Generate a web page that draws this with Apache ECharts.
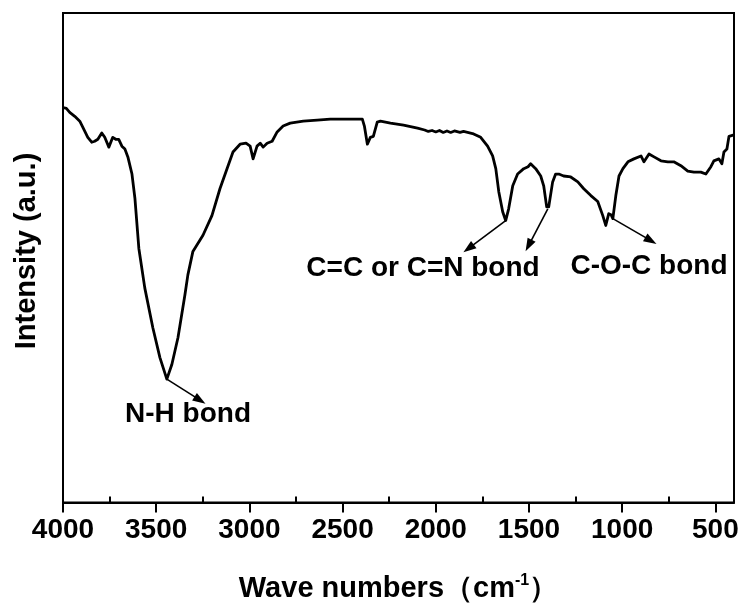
<!DOCTYPE html>
<html>
<head>
<meta charset="utf-8">
<script src="https://cdn.jsdelivr.net/npm/echarts@6/dist/echarts.min.js"></script>
<style>
  html, body { margin: 0; padding: 0; background: #fff; }
  #chart { width: 744px; height: 608px; }
</style>
</head>
<body>
<div id="chart"></div>
<script>
// FTIR spectrum: wavenumber (cm-1) and intensity (a.u.)
const wavenumbers = [
  4000, 3982, 3964, 3937, 3910, 3894, 3867, 3846, 3830, 3813, 3792, 3776, 3754, 3733, 3717, 3701,
  3684, 3668, 3652, 3630, 3614, 3593, 3561, 3518, 3480, 3443, 3416, 3383, 3346, 3330, 3303, 3249,
  3201, 3158, 3120, 3088, 3050, 3018, 2996, 2980, 2959, 2942, 2926, 2905, 2878, 2851, 2819, 2781,
  2711, 2636, 2566, 2475, 2394, 2383, 2367, 2351, 2335, 2314, 2297, 2243, 2173, 2098, 2060, 2040,
  2020, 2000, 1980, 1960, 1940, 1920, 1900, 1870, 1851, 1797, 1759, 1722, 1695, 1678, 1662, 1641,
  1625, 1609, 1587, 1561, 1528, 1505, 1491, 1475, 1464, 1437, 1421, 1405, 1399, 1394, 1373, 1357,
  1340, 1314, 1276, 1238, 1206, 1168, 1131, 1104, 1088, 1072, 1060, 1050, 1034, 1017, 996, 969,
  937, 899, 883, 856, 829, 792, 755, 723, 685, 648, 615, 578, 551, 524, 508, 481,
  465, 454, 438, 427, 400
];
const intensity = [
  80.7, 80.5, 79.7, 78.9, 77.9, 76.7, 74.6, 73.6, 73.8, 74.2, 75.5, 74.6, 72.6, 74.6, 74.2, 74.2,
  72.8, 72.2, 70.6, 67.1, 62.1, 51.9, 43.8, 35.7, 29.6, 25.2, 28.2, 33.7, 42.4, 46.5, 51.3, 54.6,
  58.6, 64.1, 68.2, 71.6, 73.2, 73.4, 72.8, 70.2, 72.8, 73.4, 72.6, 73.4, 73.8, 75.7, 76.9, 77.5,
  77.9, 78.1, 78.3, 78.3, 78.3, 76.9, 73.2, 74.6, 74.8, 77.7, 77.9, 77.5, 77.1, 76.5, 76.1, 75.8,
  76.0, 75.7, 76.0, 75.6, 75.9, 75.6, 75.9, 75.6, 75.8, 75.3, 74.6, 72.8, 70.8, 68.2, 63.5, 59.4,
  57.6, 60.0, 64.7, 67.1, 68.2, 68.6, 69.2, 68.6, 68.2, 66.7, 64.7, 60.4, 60.0, 60.4, 65.5, 67.1,
  67.1, 66.7, 66.5, 65.5, 64.1, 62.7, 61.5, 58.6, 56.6, 59.0, 58.8, 58.0, 62.7, 66.7, 68.2, 69.6,
  70.2, 70.8, 69.6, 71.2, 70.6, 69.8, 69.6, 69.6, 68.8, 67.7, 67.5, 67.5, 67.1, 68.6, 69.8, 70.2,
  69.2, 71.6, 72.2, 74.8, 75.1
];

// Axis ticks
const majorTicks = [500, 1000, 1500, 2000, 2500, 3000, 3500, 4000];
const minorTicks = [750, 1250, 1750, 2250, 2750, 3250, 3750];

// Band assignments: arrow from the band [wavenumber, intensity] to its tip
const bandArrows = [
  { from: [3443, 25.2], to: [3265, 20.9] },
  { from: [1625, 57.6], to: [1824, 51.9] },
  { from: [1399, 60.0], to: [1502, 52.5] },
  { from: [1050, 58.0], to: [846, 53.5] }
];
const bandLabels = [
  { text: 'N-H bond', x: 188, y: 414 },
  { text: 'C=C or C=N bond', x: 423, y: 268 },
  { text: 'C-O-C bond', x: 649, y: 266 }
];

const FONT = '"Liberation Sans", Arial, sans-serif';
const chart = echarts.init(document.getElementById('chart'), null, { renderer: 'canvas' });

const baseX = {
  type: 'value',
  inverse: true,
  min: 400,
  max: 4000,
  splitLine: { show: false },
  axisPointer: { show: false }
};

chart.setOption({
  animation: false,
  backgroundColor: '#ffffff',
  grid: {
    left: 63, right: 10, top: 13, bottom: 102,
    show: true, borderColor: '#000', borderWidth: 2, backgroundColor: 'transparent'
  },
  xAxis: [
    Object.assign({}, baseX, {
      axisLine: { show: true, onZero: false, lineStyle: { color: '#000', width: 2 } },
      axisTick: { show: true, inside: false, length: 10, customValues: majorTicks,
                  lineStyle: { color: '#000', width: 2 } },
      axisLabel: { show: true, customValues: majorTicks, margin: 14, color: '#000',
                   fontFamily: FONT, fontWeight: 'bold', fontSize: 28,
                   formatter: v => String(v) },
      name: '{t|Wave numbers（cm}{s|-1}{t|）}',
      nameLocation: 'middle',
      nameGap: 70,
      nameTextStyle: {
        rich: {
          t: { fontFamily: FONT, fontWeight: 'bold', fontSize: 29, color: '#000' },
          s: { fontFamily: FONT, fontWeight: 'bold', fontSize: 16, color: '#000',
               verticalAlign: 'top', padding: [0, 0, 16, 0] }
        }
      }
    }),
    Object.assign({}, baseX, {
      axisLine: { show: false },
      axisTick: { show: true, inside: false, length: 6, customValues: minorTicks,
                  lineStyle: { color: '#000', width: 2 } },
      axisLabel: { show: false }
    })
  ],
  yAxis: {
    type: 'value',
    min: 0,
    max: 100,
    axisLine: { show: true, lineStyle: { color: '#000', width: 2 } },
    axisTick: { show: false },
    axisLabel: { show: false },
    splitLine: { show: false }
  },
  series: [{
    type: 'line',
    xAxisIndex: 0,
    data: wavenumbers.map((w, i) => [w, intensity[i]]),
    showSymbol: false,
    smooth: false,
    lineStyle: { color: '#000', width: 2.8, join: 'round' },
    silent: true,
    markLine: {
      silent: true,
      symbol: ['none', 'triangle'],
      symbolSize: [9, 13],
      label: { show: false },
      lineStyle: { color: '#000', width: 1.6, type: 'solid' },
      emphasis: { disabled: true },
      data: bandArrows.map(a => [{ coord: a.from }, { coord: a.to }])
    }
  }],
  graphic: [
    {
      type: 'text',
      x: 27, y: 251, rotation: Math.PI / 2,
      style: { text: 'Intensity (a.u.)', fill: '#000', font: 'bold 29px ' + FONT,
               textAlign: 'center', textVerticalAlign: 'middle' }
    }
  ].concat(bandLabels.map(l => ({
    type: 'text',
    x: l.x, y: l.y,
    style: { text: l.text, fill: '#000', font: 'bold 28px ' + FONT,
             textAlign: 'center', textVerticalAlign: 'middle' }
  })))
});
</script>
</body>
</html>
